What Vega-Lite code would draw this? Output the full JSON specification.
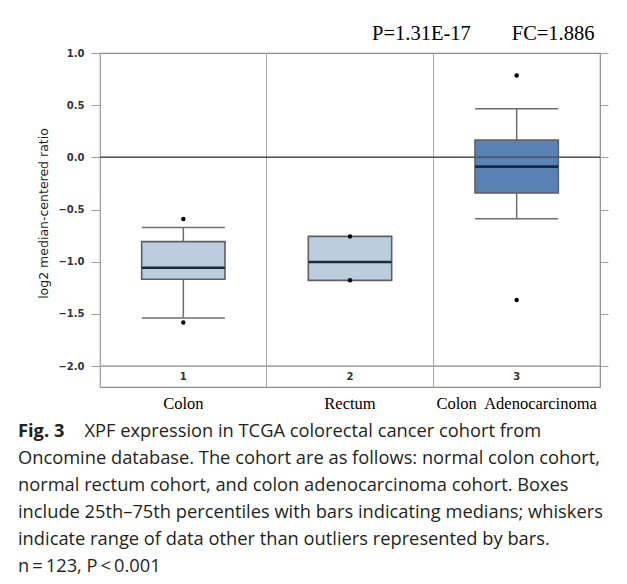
{
  "$schema": "https://vega.github.io/schema/vega-lite/v6.json",
  "width": 500,
  "height": 334,
  "autosize": {"type": "none"},
  "padding": {"left": 100, "top": 53, "right": 27, "bottom": 197},
  "background": "white",
  "config": {
    "view": {"stroke": "#8c8c8c", "strokeWidth": 1.2}
  },
  "title": {
    "text": "Fig. 3",
    "subtitle": [
      "\u200b\u00a0\u00a0\u00a0\u00a0\u00a0\u00a0\u00a0\u00a0\u00a0\u00a0\u00a0\u00a0\u00a0\u00a0XPF expression in TCGA colorectal cancer cohort from",
      "Oncomine database. The cohort are as follows: normal colon cohort,",
      "normal rectum cohort, and colon adenocarcinoma cohort. Boxes",
      "include 25th\u201375th percentiles with bars indicating medians; whiskers",
      "indicate range of data other than outliers represented by bars.",
      "n\u2009=\u2009123, P\u2009<\u20090.001"
    ],
    "orient": "bottom",
    "anchor": "start",
    "frame": "group",
    "dx": -82,
    "offset": 11,
    "baseline": "top",
    "font": "Open Sans",
    "fontSize": 18.3,
    "fontWeight": "bold",
    "color": "#231f20",
    "subtitleFont": "Open Sans",
    "subtitleFontSize": 18.3,
    "subtitleFontWeight": "normal",
    "subtitleColor": "#231f20",
    "subtitlePadding": -18.3,
    "subtitleLineHeight": 27
  },
  "datasets": {
    "boxes": [
      {"group": "Colon", "type": "normal", "q1": -1.168, "q3": -0.807, "median": -1.057},
      {"group": "Rectum", "type": "normal", "q1": -1.178, "q3": -0.757, "median": -1.002},
      {"group": "Colon\u00a0 Adenocarcinoma", "type": "cancer", "q1": -0.341, "q3": 0.167, "median": -0.089}
    ],
    "whiskers": [
      {"group": "Colon", "lower": -1.539, "upper": -0.673},
      {"group": "Colon\u00a0 Adenocarcinoma", "lower": -0.587, "upper": 0.466}
    ],
    "outliers": [
      {"group": "Colon", "value": -0.59},
      {"group": "Colon", "value": -1.583},
      {"group": "Rectum", "value": -0.757},
      {"group": "Rectum", "value": -1.178},
      {"group": "Colon\u00a0 Adenocarcinoma", "value": 0.785},
      {"group": "Colon\u00a0 Adenocarcinoma", "value": -1.366}
    ],
    "headers": [
      {"group": "Colon", "label": "1", "pos": -2.1},
      {"group": "Rectum", "label": "2", "pos": -2.1},
      {"group": "Colon\u00a0 Adenocarcinoma", "label": "3", "pos": -2.1}
    ]
  },
  "layer": [
    {
      "data": {"name": "headers"},
      "mark": {"type": "text", "font": "DejaVu Sans", "fontSize": 10, "fontWeight": "bold", "color": "#333333", "baseline": "middle"},
      "encoding": {
        "x": {
          "field": "group", "type": "nominal",
          "scale": {"domain": ["Colon", "Rectum", "Colon\u00a0 Adenocarcinoma"], "paddingInner": 0, "paddingOuter": 0},
          "axis": {
            "orient": "top", "labels": false, "ticks": false, "domain": false,
            "grid": true, "bandPosition": 0, "gridColor": "#a8a8a8", "gridWidth": 1, "gridOpacity": 1,
            "title": "P=1.31E-17\u00a0\u00a0\u00a0\u00a0\u00a0\u00a0\u00a0\u00a0FC=1.886",
            "titleFont": "Liberation Serif", "titleFontSize": 20.5, "titleFontWeight": "normal",
            "titleColor": "#000000", "titleAnchor": "end", "titleAlign": "right", "titleX": 494, "titlePadding": 10
          }
        },
        "y": {"field": "pos", "type": "quantitative", "scale": {"domain": [-2.2, 1.0], "nice": false, "zero": false}, "axis": null},
        "text": {"field": "label"}
      }
    },
    {
      "data": {"name": "boxes"},
      "mark": {"type": "rule", "color": "#a8a8a8", "strokeWidth": 1},
      "encoding": {"y": {"datum": -2.0, "type": "quantitative", "axis": null}}
    },
    {
      "data": {"name": "whiskers"},
      "mark": {"type": "rule", "color": "#6e6e6e", "strokeWidth": 1.5},
      "encoding": {
        "x": {"field": "group", "type": "nominal", "axis": null},
        "y": {"field": "lower", "type": "quantitative", "axis": null},
        "y2": {"field": "upper"}
      }
    },
    {
      "data": {"name": "whiskers"},
      "mark": {"type": "tick", "color": "#6e6e6e", "size": 83, "thickness": 1.5, "opacity": 1},
      "encoding": {
        "x": {"field": "group", "type": "nominal", "axis": null},
        "y": {"field": "lower", "type": "quantitative", "axis": null}
      }
    },
    {
      "data": {"name": "whiskers"},
      "mark": {"type": "tick", "color": "#6e6e6e", "size": 83, "thickness": 1.5, "opacity": 1},
      "encoding": {
        "x": {"field": "group", "type": "nominal", "axis": null},
        "y": {"field": "upper", "type": "quantitative", "axis": null}
      }
    },
    {
      "data": {"name": "boxes"},
      "mark": {"type": "bar", "width": {"band": 0.5}, "stroke": "#5f5f5f", "strokeWidth": 1.6, "opacity": 1},
      "encoding": {
        "x": {
          "field": "group", "type": "nominal",
          "axis": {
            "orient": "bottom", "title": null, "ticks": false, "domain": false, "grid": false,
            "labelAngle": 0, "labelFont": "Liberation Serif", "labelFontSize": 16.5, "labelColor": "#000000",
            "labelPadding": 8, "labelBaseline": "top"
          }
        },
        "y": {
          "field": "q3", "type": "quantitative",
          "axis": {
            "orient": "left", "values": [1, 0.5, 0, -0.5, -1, -1.5, -2], "format": ".1f",
            "grid": false, "domain": false, "tickSize": 9, "tickColor": "#a0a0a0", "tickWidth": 1,
            "labelFont": "DejaVu Sans", "labelFontSize": 10, "labelFontWeight": "bold", "labelColor": "#333333",
            "labelPadding": 7,
            "title": "log2 median-centered ratio", "titleFont": "DejaVu Sans", "titleFontSize": 12.5,
            "titleFontWeight": "normal", "titleColor": "#1a1a1a", "titlePadding": 7, "titleY": 160
          }
        },
        "y2": {"field": "q1"},
        "fill": {
          "field": "type", "type": "nominal",
          "scale": {"domain": ["normal", "cancer"], "range": ["#bccde0", "#5b82b4"]},
          "legend": null
        }
      }
    },
    {
      "data": {"name": "boxes"},
      "mark": {"type": "tick", "color": "#1b2a3a", "size": 83, "thickness": 2.6, "opacity": 1},
      "encoding": {
        "x": {"field": "group", "type": "nominal", "axis": null},
        "y": {"field": "median", "type": "quantitative", "axis": null}
      }
    },
    {
      "data": {"name": "boxes"},
      "mark": {"type": "rule", "color": "#555555", "strokeWidth": 1.3},
      "encoding": {"y": {"datum": 0, "type": "quantitative", "axis": null}}
    },
    {
      "data": {"name": "outliers"},
      "mark": {"type": "circle", "color": "#000000", "size": 20, "opacity": 1},
      "encoding": {
        "x": {"field": "group", "type": "nominal", "axis": null},
        "y": {
          "field": "value", "type": "quantitative",
          "axis": {
            "orient": "right", "values": [1, 0.5, 0, -0.5, -1, -1.5, -2],
            "labels": false, "domain": false, "grid": false, "title": null,
            "tickSize": 8, "tickColor": "#a0a0a0", "tickWidth": 1
          }
        }
      }
    }
  ]
}
